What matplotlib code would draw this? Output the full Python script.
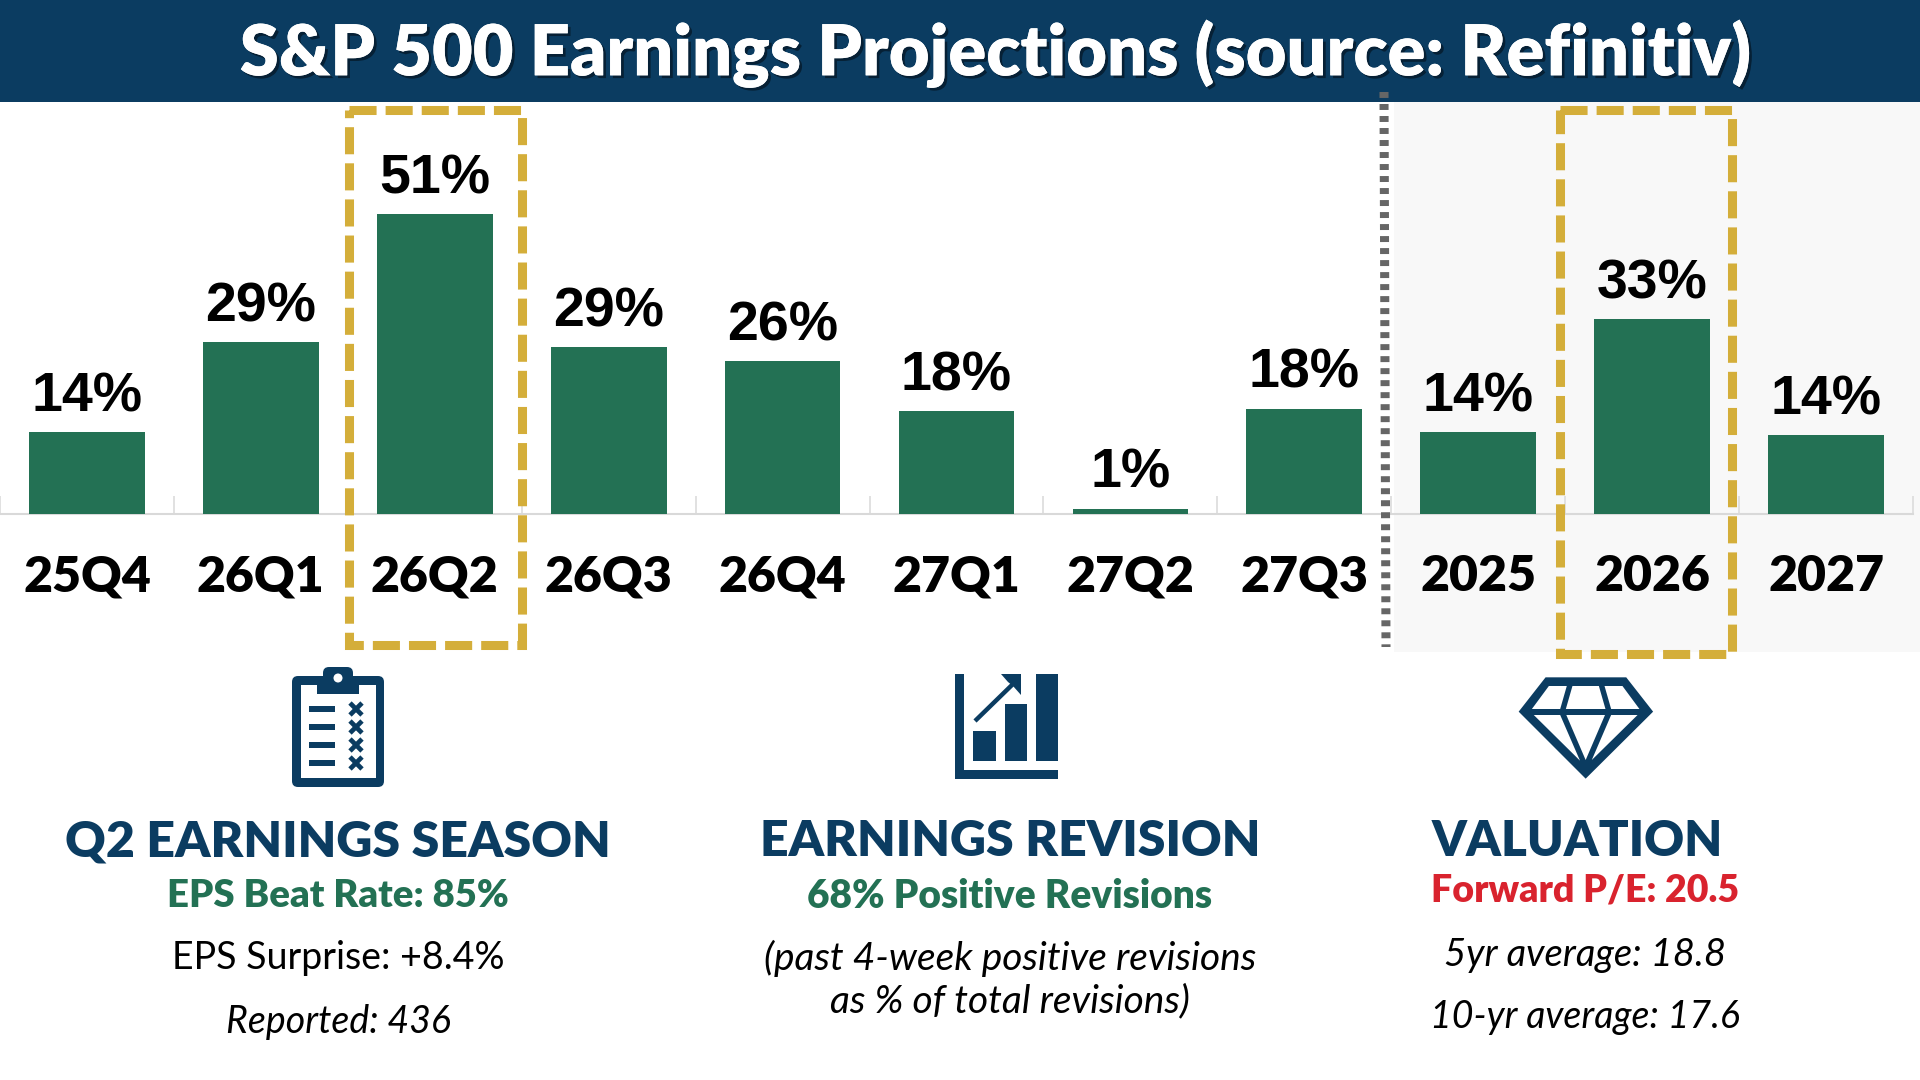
import matplotlib
matplotlib.use("Agg")
import matplotlib.pyplot as plt
import matplotlib.patheffects as pe
from matplotlib.patches import Polygon, Rectangle, Circle, FancyBboxPatch

categories = ["25Q4", "26Q1", "26Q2", "26Q3", "26Q4", "27Q1", "27Q2", "27Q3", "2025", "2026", "2027"]
growth = [14.0, 29.3, 51.2, 28.5, 26.1, 17.6, 0.9, 18.0, 14.0, 33.2, 13.5]
labels = ["14%", "29%", "51%", "29%", "26%", "18%", "1%", "18%", "14%", "33%", "14%"]

NAVY = "#0b3c61"
GREEN = "#237154"
GOLD = "#d4ae3a"
RED = "#d9232e"
HEAD = "Lato"
BODY = "Lato"

fig = plt.figure(figsize=(19.2, 10.8), dpi=100, facecolor="white")

# background layer, in pixels
bg = fig.add_axes([0, 0, 1, 1], zorder=0)
bg.set_xlim(0, 1920)
bg.set_ylim(1080, 0)
bg.axis("off")
bg.add_patch(Rectangle((1394, 102), 526, 550, fc="#f8f8f8", ec="none"))

# bars
base_y = 514
px_per_pct = 5.86
ymax = 60
ax = fig.add_axes([0, 1 - base_y / 1080, 1913 / 1920, ymax * px_per_pct / 1080], zorder=1)
ax.patch.set_alpha(0)
ax.set_xlim(-0.5, 10.5)
ax.set_ylim(0, ymax)
pos = range(len(categories))
ax.bar(pos, growth, width=0.665, color=GREEN, zorder=3)
for i, (v, lab) in enumerate(zip(growth, labels)):
    ax.annotate(lab, (i, v), xytext=(0, 15), textcoords="offset points", ha="center", va="baseline",
                fontsize=40, fontweight="bold", family="Liberation Sans", color="black")
for s in ["top", "left", "right"]:
    ax.spines[s].set_visible(False)
ax.spines["bottom"].set_color("#d9d9d9")
ax.spines["bottom"].set_linewidth(1.5)
ax.set_yticks([])
ax.set_xticks(list(pos))
ax.set_xticklabels(categories, fontsize=36, fontweight="heavy", family=HEAD, color="black")
ax.tick_params(axis="x", which="major", length=0, pad=29)
ax.set_xticks([i - 0.5 for i in range(len(categories) + 1)], minor=True)
ax.tick_params(axis="x", which="minor", direction="in", length=13, width=1.1, color="#d9d9d9")

# top layer: banner, boxes, icons, text
top = fig.add_axes([0, 0, 1, 1], zorder=2)
top.patch.set_alpha(0)
top.set_xlim(0, 1920)
top.set_ylim(1080, 0)
top.axis("off")

top.add_patch(Rectangle((0, 0), 1920, 102, fc=NAVY, ec="none"))
title = top.text(995, 54, "S&P 500 Earnings Projections (source: Refinitiv)", ha="center", va="center",
                 fontsize=50.6, fontweight="heavy", family=HEAD, color="white")
title.set_path_effects([pe.withSimplePatchShadow(offset=(2, -2), shadow_rgbFace="black", alpha=0.45), pe.Normal()])

top.plot([1384, 1386], [92, 647], color="#666666", lw=6.5, linestyle=(0, (0.66, 0.67)), solid_capstyle="butt")

for x0, x1, y0, y1 in [(349, 522, 110, 645), (1560, 1732, 110, 654)]:
    top.add_patch(Rectangle((x0, y0), x1 - x0, y1 - y0, fc="none", ec=GOLD, lw=6.5,
                            linestyle=(0, (3, 1)), capstyle="butt", joinstyle="miter"))


def clipboard():
    top.add_patch(FancyBboxPatch((296, 680), 84, 103, boxstyle="round,pad=4,rounding_size=6", fc=NAVY, ec="none"))
    top.add_patch(FancyBboxPatch((327, 671), 22, 20, boxstyle="round,pad=4,rounding_size=6", fc=NAVY, ec="none"))
    top.add_patch(Rectangle((301, 685), 75, 93, fc="white", ec="none"))
    top.add_patch(Rectangle((317, 680), 42, 14, fc=NAVY, ec="none"))
    top.add_patch(Circle((338, 678), 4.5, fc="white", ec="none"))
    for y in [709, 727, 745, 763]:
        top.add_patch(Rectangle((309, y - 3), 26, 6, fc=NAVY, ec="none"))
        top.plot([350, 362], [y - 6, y + 6], color=NAVY, lw=3.4, solid_capstyle="butt")
        top.plot([350, 362], [y + 6, y - 6], color=NAVY, lw=3.4, solid_capstyle="butt")


def chart_icon():
    for x, y, w, h in [(955, 674, 9, 105), (955, 770, 103, 9), (973, 731, 23, 30), (1004.5, 704, 22.5, 57),
                       (1036, 674, 22, 87)]:
        top.add_patch(Rectangle((x, y), w, h, fc=NAVY, ec="none"))
    top.plot([975, 1013], [721, 684], color=NAVY, lw=3.2, solid_capstyle="butt")
    top.add_patch(Polygon([(1001, 674), (1021, 674), (1021, 695), (1013, 686), (1008, 682)], fc=NAVY, ec="none"))


def diamond():
    def px(pts):
        return [(x / 2.12 + 930, y / 3 + 650) for x, y in pts]

    top.add_patch(Polygon(px([(1305, 82), (1476, 82), (1533, 185), (1390, 386), (1248, 185)]), fc=NAVY, ec="none"))
    facets = [
        [(1312, 108), (1350, 108), (1336, 177), (1276, 177)],
        [(1362, 108), (1418, 108), (1432, 177), (1348, 177)],
        [(1430, 108), (1468, 108), (1504, 177), (1444, 177)],
        [(1280, 195), (1336, 195), (1378, 332)],
        [(1349, 195), (1431, 195), (1390, 330)],
        [(1444, 195), (1500, 195), (1403, 330)],
    ]
    for f in facets:
        top.add_patch(Polygon(px(f), fc="white", ec="none"))


clipboard()
chart_icon()
diamond()

# x, y, text, size, weight, style, colour
captions = [
    (338, 842, "Q2 EARNINGS SEASON", 36, "heavy", "normal", NAVY),
    (338, 896, "EPS Beat Rate: 85%", 27.5, "heavy", "normal", GREEN),
    (338, 958, "EPS Surprise: +8.4%", 27, "normal", "normal", "black"),
    (338, 1022, "Reported: 436", 27, "normal", "italic", "black"),
    (1010, 842, "EARNINGS REVISION", 36, "heavy", "normal", NAVY),
    (1010, 896, "68% Positive Revisions", 28, "heavy", "normal", GREEN),
    (1010, 958, "(past 4-week positive revisions", 28, "normal", "italic", "black"),
    (1010, 1001, "as % of total revisions)", 28, "normal", "italic", "black"),
    (1577, 842, "VALUATION", 35.5, "heavy", "normal", NAVY),
    (1585, 890, "Forward P/E: 20.5", 27, "heavy", "normal", RED),
    (1585, 955, "5yr average: 18.8", 27.5, "normal", "italic", "black"),
    (1585, 1017, "10-yr average: 17.6", 27, "normal", "italic", "black"),
]
for x, y, s, size, weight, style, col in captions:
    top.text(x, y, s, ha="center", va="center", fontsize=size, fontweight=weight, fontstyle=style,
             family=BODY, color=col)

fig.savefig("out.png", dpi=100)
